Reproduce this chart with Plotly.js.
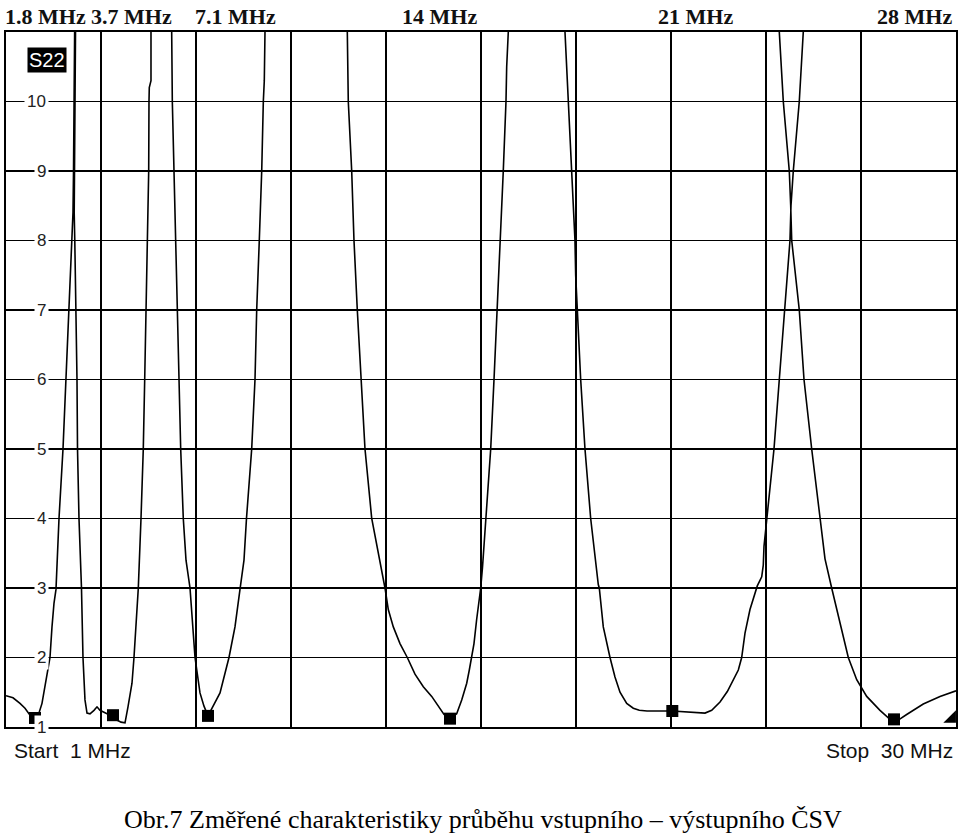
<!DOCTYPE html>
<html>
<head>
<meta charset="utf-8">
<script src="https://cdn.plot.ly/plotly-3.0.1.min.js"></script>
<style>
  html, body { margin: 0; padding: 0; background: #ffffff; }
  #chart { width: 959px; height: 835px; }
</style>
</head>
<body>
<div id="chart"></div>
<script>
// Measured S22 (VSWR) trace, 1–30 MHz, in drawing order (points above 11 lie beyond the screen top)
const traceFreqMHz = [
  1.000, 1.214, 1.427, 1.580, 1.733, 1.885, 1.946, 2.099, 2.191, 2.282, 2.343, 2.404, 2.465, 2.526,
  2.618, 2.740, 2.832, 2.923, 3.015, 3.045, 3.061, 3.085, 3.100, 3.112,
  3.122, 3.106, 3.091, 3.082, 3.100, 3.137, 3.167, 3.183, 3.228, 3.289, 3.304, 3.350, 3.411, 3.473,
  3.564, 3.686, 3.778, 3.869, 4.083, 4.266, 4.388, 4.511, 4.633, 4.724, 4.846, 4.907, 4.999, 5.039,
  5.121, 5.191, 5.234, 5.274, 5.313, 5.356, 5.365, 5.374, 5.426, 5.426, 5.732,
  6.058, 6.077, 6.128, 6.168, 6.211, 6.260, 6.333, 6.412, 6.495, 6.617, 6.770, 6.922, 7.044, 7.166,
  7.319, 7.533, 7.807, 7.990, 8.143, 8.265, 8.341, 8.500, 8.601, 8.653, 8.732, 8.806, 8.855, 8.885, 8.906,
  10.158,
  11.419, 11.449, 11.553, 11.623, 11.724, 11.837, 11.959, 12.164, 12.548, 12.569, 12.670, 12.823, 13.027,
  13.250, 13.485, 13.739, 13.995, 14.197, 14.371, 14.554, 14.758, 14.911, 15.064, 15.143, 15.216, 15.286,
  15.368, 15.448, 15.491, 15.546, 15.653, 15.796, 15.897, 15.998, 16.101, 16.180, 16.263, 16.284, 16.333,
  17.179,
  18.064, 18.116, 18.146, 18.268, 18.369, 18.390, 18.439, 18.543, 18.674, 18.848, 19.080, 19.111, 19.233,
  19.355, 19.438, 19.590, 19.743, 19.948, 20.149, 20.332, 20.568, 21.340, 21.676, 22.033, 22.338, 22.542,
  22.796, 23.019, 23.202, 23.355, 23.458, 23.559, 23.711, 23.864, 23.934, 24.069, 24.117, 24.139, 24.221,
  24.444, 24.606, 24.780, 24.932, 24.963, 25.033, 25.216, 25.338,
  24.963,
  24.606, 24.728, 24.911, 24.954, 24.985, 25.216, 25.360, 25.595, 25.848, 26.001, 26.205, 26.459, 26.712,
  26.969, 27.274, 27.680, 27.985, 28.107, 28.238, 28.494, 29.001, 29.512, 29.970, 30.000
];
const traceVswr = [
  1.45, 1.42, 1.34, 1.27, 1.17, 1.13, 1.11, 1.34, 1.57, 1.82, 2.00, 2.44, 2.78, 2.98,
  4.0, 5.0, 6.0, 7.0, 8.0, 8.4, 9.0, 10.0, 11.0, 12.0,
  11.0, 10.0, 9.0, 8.4, 8.0, 7.0, 6.0, 5.0, 4.0, 3.2, 3.0, 2.0, 1.39, 1.20,
  1.19, 1.24, 1.29, 1.24, 1.19, 1.17, 1.10, 1.07, 1.06, 1.29, 1.63, 2.00, 2.64, 3.0,
  4.0, 5.0, 6.0, 7.0, 8.0, 9.0, 10.0, 10.2, 10.3, 11.0, 13.0,
  11.0, 10.0, 9.0, 8.0, 7.0, 6.0, 5.0, 4.0, 3.4, 3.0, 2.0, 1.49, 1.30, 1.16,
  1.29, 1.49, 2.00, 2.44, 2.98, 3.4, 4.0, 5.0, 6.0, 7.0, 8.0, 9.0, 10.0, 10.3, 11.0,
  14.0,
  11.0, 10.0, 9.0, 8.0, 7.0, 6.0, 5.0, 4.0, 3.05, 3.0, 2.69, 2.44, 2.2,
  2.0, 1.76, 1.58, 1.44, 1.29, 1.18, 1.12, 1.19, 1.39, 1.63, 1.82, 2.0, 2.2,
  2.55, 2.84, 3.0, 3.3, 4.0, 5.0, 6.0, 7.0, 8.0, 9.0, 10.0, 10.5, 11.0,
  14.0,
  11.0, 10.5, 10.0, 9.0, 8.0, 7.5, 7.0, 6.0, 5.0, 4.0, 3.05, 3.0, 2.44,
  2.15, 2.0, 1.72, 1.5, 1.34, 1.27, 1.24, 1.23, 1.23, 1.22, 1.20, 1.20, 1.24,
  1.36, 1.51, 1.67, 1.82, 2.0, 2.35, 2.69, 2.94, 3.03, 3.16, 3.33, 3.6, 4.0,
  5.0, 6.0, 7.0, 8.0, 8.5, 9.0, 10.0, 11.0,
  12.5,
  11.0, 10.0, 9.0, 8.5, 8.0, 7.0, 6.0, 5.0, 4.0, 3.42, 3.0, 2.5, 2.0,
  1.68, 1.44, 1.24, 1.11, 1.08, 1.10, 1.18, 1.33, 1.44, 1.51, 1.52
];

// Marker readouts (filled squares)
const markerFreqMHz = [1.885, 4.266, 7.166, 14.554, 21.340, 28.107];
const markerVswr    = [1.13, 1.17, 1.16, 1.12, 1.23, 1.11];

// Reference-level pointer at the end of the sweep
const refFreqMHz = [29.87];
const refVswr    = [1.12];

// Band labels shown above the screen
const bandLabels = ['1.8 MHz', '3.7 MHz', '7.1 MHz', '14 MHz', '21 MHz', '28 MHz'];

// Y scale labels (VSWR)
const yTickVals   = [1, 2, 3, 4, 5, 6, 7, 8, 9, 10];
const yTickLabels = ['1', '2', '3', '4', '5', '6', '7', '8', '9', '10'];

const startLabel = 'Start\u00a0\u00a01 MHz';
const stopLabel  = 'Stop\u00a0\u00a030 MHz';
const traceName  = 'S22';
const caption    = 'Obr.7 Změřené charakteristiky průběhu vstupního – výstupního ČSV';

// ---- layout helpers (positions, not data) ----
const bandLabelX = [0.0416, 0.1316, 0.2411, 0.4563, 0.7258, 0.9563];

const annotations = [];
bandLabels.forEach((t, i) => {
  annotations.push({
    text: t, xref: 'paper', yref: 'paper', x: bandLabelX[i], y: 1.0216,
    xanchor: 'center', yanchor: 'middle', showarrow: false,
    font: { family: 'Liberation Serif, Times New Roman, serif', size: 22, color: '#111111', weight: 'bold' }
  });
});
yTickVals.forEach((v, i) => {
  annotations.push({
    text: yTickLabels[i], xref: 'paper', yref: 'y', x: 0.0455, y: v,
    xanchor: 'right', yanchor: 'middle', showarrow: false,
    bgcolor: '#ffffff', borderpad: 2,
    font: { family: 'Liberation Sans, Arial, sans-serif', size: 17, color: '#222222' }
  });
});
annotations.push({
  text: traceName, xref: 'paper', yref: 'paper', x: 0.0432, y: 0.959,
  xanchor: 'center', yanchor: 'middle', showarrow: false,
  bgcolor: '#000000', borderpad: 1,
  font: { family: 'Liberation Sans, Arial, sans-serif', size: 20, color: '#ffffff' }
});
annotations.push({
  text: startLabel, xref: 'paper', yref: 'paper', x: 0.0063, y: -0.0331,
  xanchor: 'left', yanchor: 'middle', showarrow: false,
  font: { family: 'Liberation Sans, Arial, sans-serif', size: 21, color: '#111111' }
});
annotations.push({
  text: stopLabel, xref: 'paper', yref: 'paper', x: 0.9989, y: -0.0331,
  xanchor: 'right', yanchor: 'middle', showarrow: false,
  font: { family: 'Liberation Sans, Arial, sans-serif', size: 21, color: '#111111' }
});
annotations.push({
  text: caption, xref: 'paper', yref: 'paper', x: 0.502, y: -0.1338,
  xanchor: 'center', yanchor: 'middle', showarrow: false,
  font: { family: 'Liberation Serif, Times New Roman, serif', size: 26, color: '#000000' }
});

const data = [
  {
    type: 'scatter', mode: 'lines', x: traceFreqMHz, y: traceVswr,
    line: { color: '#000000', width: 1.6 }, hoverinfo: 'skip'
  },
  {
    type: 'scatter', mode: 'markers', x: markerFreqMHz, y: markerVswr,
    marker: { symbol: 'square', size: 12, color: '#000000' }, hoverinfo: 'skip'
  },
  {
    type: 'scatter', mode: 'markers', x: refFreqMHz, y: refVswr,
    marker: { symbol: 'triangle-se', size: 14, color: '#000000' }, hoverinfo: 'skip', cliponaxis: false
  }
];

const layout = {
  width: 959, height: 835,
  margin: { l: 6, r: 3, t: 32, b: 108, pad: 0 },
  paper_bgcolor: '#ffffff', plot_bgcolor: '#ffffff',
  showlegend: false,
  xaxis: {
    range: [1, 30], tick0: 1, dtick: 2.9, showticklabels: false, ticks: '',
    showgrid: true, gridcolor: '#000000', gridwidth: 1.7, zeroline: false,
    showline: true, mirror: true, linecolor: '#000000', linewidth: 2, fixedrange: true
  },
  yaxis: {
    range: [1, 11], tick0: 1, dtick: 1, showticklabels: false, ticks: '',
    showgrid: true, gridcolor: '#000000', gridwidth: 1.7, zeroline: false,
    showline: true, mirror: true, linecolor: '#000000', linewidth: 2, fixedrange: true
  },
  annotations: annotations
};

Plotly.newPlot('chart', data, layout, { staticPlot: true, displayModeBar: false });
</script>
</body>
</html>
